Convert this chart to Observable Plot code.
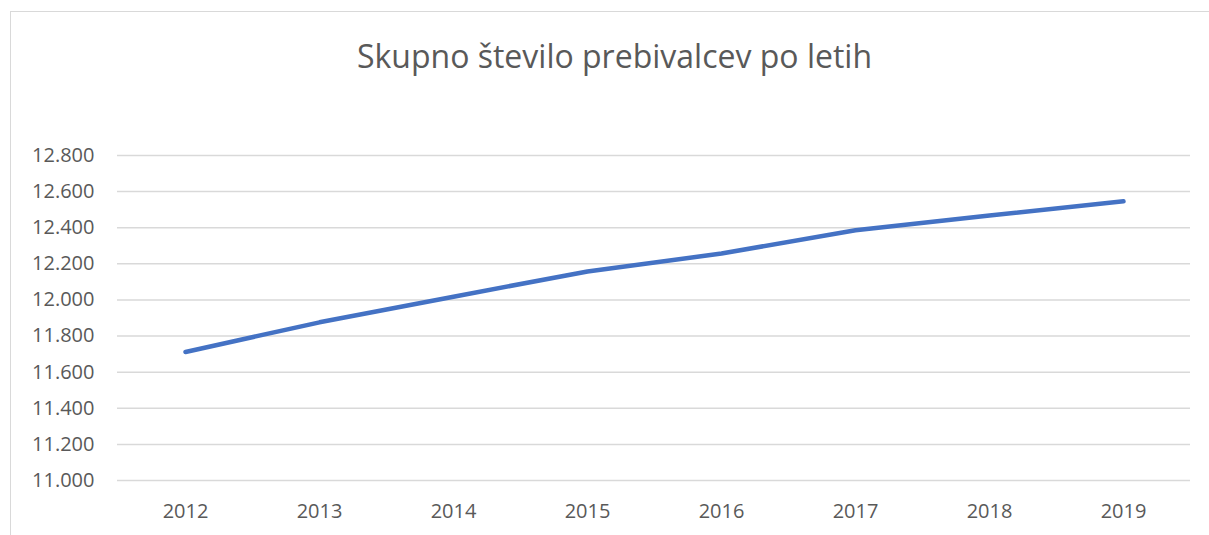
<!DOCTYPE html>
<html>
<head>
<meta charset="utf-8">
<script src="https://cdn.jsdelivr.net/npm/d3@7"></script>
<script src="https://cdn.jsdelivr.net/npm/@observablehq/plot@0.6"></script>
<style>
  html, body { margin: 0; padding: 0; background: #fff; }
  #wrap { position: relative; width: 1209px; height: 535px; overflow: hidden; }
  #frame { position: absolute; left: 10px; top: 11px; width: 1220px; height: 540px; border: 1px solid #d9d9d9; box-sizing: border-box; }
  #title { position: absolute; left: 10px; width: 1209px; top: 34px; text-align: center; font-family: "Open Sans", sans-serif; font-size: 32px; line-height: 44px; color: #595959; font-weight: 400; }
  #chart { position: absolute; left: 0; top: 0; }
</style>
</head>
<body>
<div id="wrap">
  <div id="frame"></div>
  <div id="chart"></div>
  <div id="title">Skupno število prebivalcev po letih</div>
</div>
<script>
const years = ["2012", "2013", "2014", "2015", "2016", "2017", "2018", "2019"];
const population = [11712, 11876, 12018, 12158, 12257, 12386, 12468, 12546];
const yTicks = [11000, 11200, 11400, 11600, 11800, 12000, 12200, 12400, 12600, 12800];

const data = years.map((y, i) => ({ year: y, value: population[i] }));
const fmt = v => d3.format(",")(v).replace(/,/g, ".");

const chart = Plot.plot({
  width: 1209,
  height: 535,
  marginTop: 155,
  marginBottom: 55,
  marginLeft: 117,
  marginRight: 19,
  style: { fontFamily: "'Open Sans', sans-serif", fontSize: "20px", color: "#595959", background: "transparent" },
  x: { type: "point", domain: years, padding: 0.5, label: null },
  y: { domain: [11000, 12800], label: null },
  marks: [
    Plot.gridY(yTicks, { stroke: "#d9d9d9", strokeOpacity: 1, strokeWidth: 1.5 }),
    Plot.axisY(yTicks, { tickSize: 0, tickPadding: 23, tickFormat: fmt, label: null, fill: "#595959", fontSize: 20 }),
    Plot.axisX(years, { tickSize: 0, tickPadding: 23, label: null, fill: "#595959", fontSize: 20 }),
    Plot.line(data, { x: "year", y: "value", stroke: "#4472C4", strokeWidth: 4.5, strokeLinecap: "round", strokeLinejoin: "round" })
  ]
});
document.getElementById("chart").appendChild(chart);
</script>
</body>
</html>
